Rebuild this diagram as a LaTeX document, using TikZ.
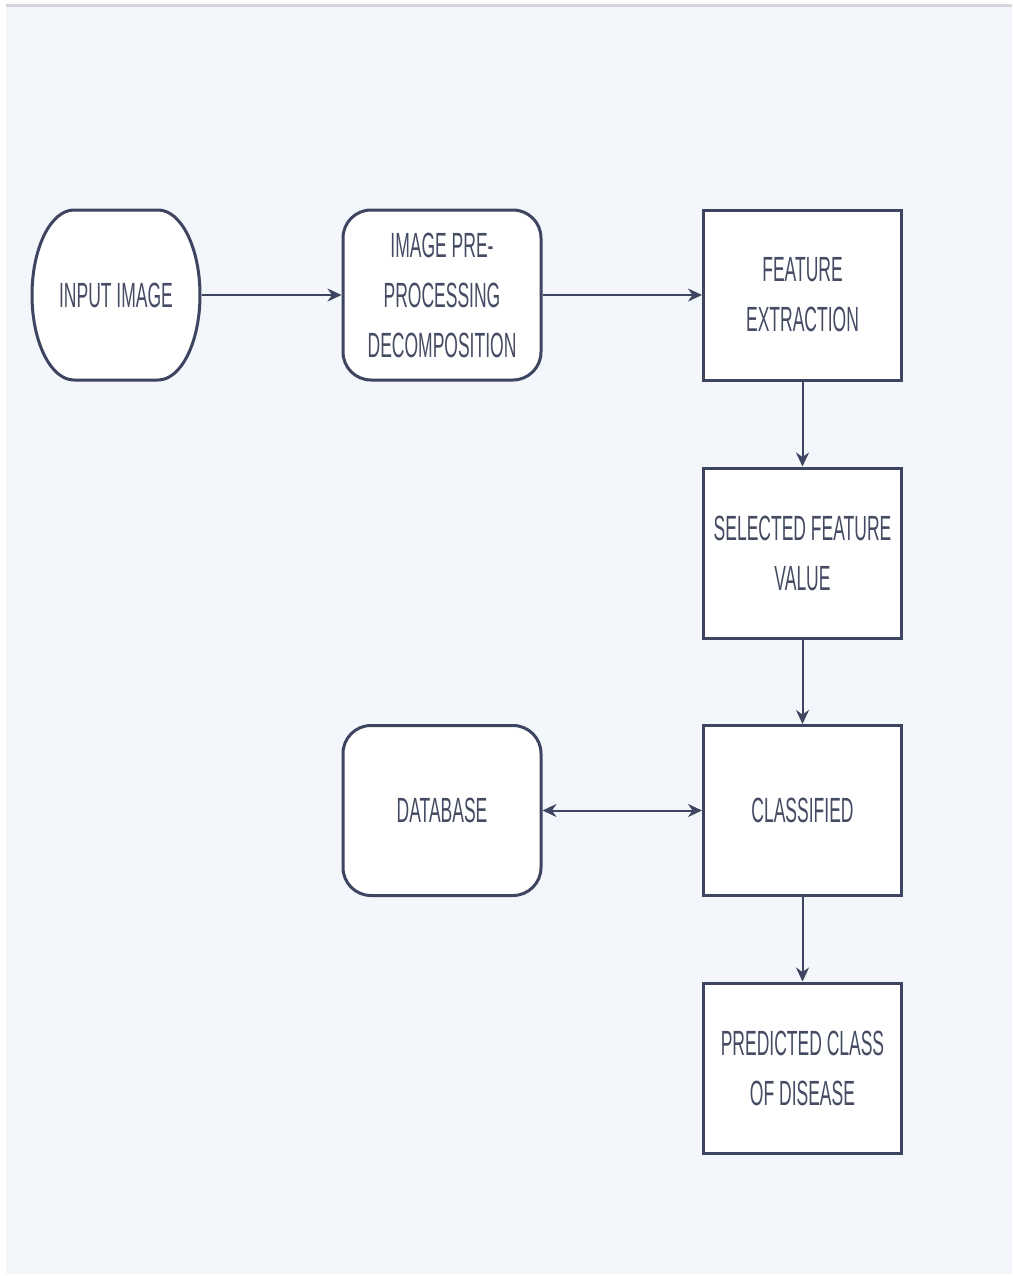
\documentclass[tikz,border=0pt]{standalone}
\usepackage{fontspec}
\usetikzlibrary{arrows.meta,calc}
\newfontfamily\lblfont[FakeStretch=0.5]{Liberation Sans}
\definecolor{panel}{HTML}{F3F6FA}
\definecolor{edge}{HTML}{3E4560}
\definecolor{txt}{HTML}{454B63}
\definecolor{topline}{HTML}{D3D7DD}
\tikzset{
  box/.style={draw=edge, line width=3pt, fill=white, minimum width=198pt, minimum height=170pt,
     inner sep=0pt, align=center, text=txt, font=\lblfont\fontsize{35}{50}\selectfont},
  roundbox/.style={box, rounded corners=28pt},
  plainbox/.style={box},
  termtext/.style={box, draw=none, fill=none, minimum width=168pt, outer sep=0pt},
  link/.style={draw=edge, line width=2pt, -{Stealth[length=14pt,width=13pt]}},
  dlink/.style={draw=edge, line width=2pt, {Stealth[length=14pt,width=13pt]}-{Stealth[length=14pt,width=13pt]}}
}
\begin{document}
\begin{tikzpicture}[x=1pt,y=1pt]
\useasboundingbox (0,0) rectangle (1012,-1276);
\fill[white] (0,0) rectangle (1012,-1276);
\fill[panel] (6,-5) rectangle (1012,-1274);
\fill[topline] (6,-4.5) rectangle (1012,-7);

% input terminal outline (stadium)
\fill[white, draw=edge, line width=3pt]
  (74,-210) -- (158,-210)
  arc[start angle=90, end angle=-90, x radius=42, y radius=85]
  -- (74,-380)
  arc[start angle=270, end angle=90, x radius=42, y radius=85] -- cycle;

% nodes
\node[termtext] (in) at (116,-295) {INPUT IMAGE};
\node[roundbox] (pre) at (442,-295) {IMAGE PRE-\\PROCESSING\\DECOMPOSITION};
\node[plainbox] (fe) at (802.5,-295) {FEATURE\\EXTRACTION};
\node[plainbox] (sfv) at (802.5,-553) {SELECTED FEATURE\\VALUE};
\node[plainbox] (cls) at (802.5,-810.5) {CLASSIFIED};
\node[roundbox] (db) at (442,-810.5) {DATABASE};
\node[plainbox] (pred) at (802.5,-1068) {PREDICTED CLASS\\OF DISEASE};

% connectors
\draw[link] ([xshift=1.5pt]in.east) -- (pre.west);
\draw[link] (pre.east) -- (fe.west);
\draw[link] (fe.south) -- (sfv.north);
\draw[link] (sfv.south) -- (cls.north);
\draw[link] (cls.south) -- (pred.north);
\draw[dlink] (db.east) -- (cls.west);
\end{tikzpicture}
\end{document}
